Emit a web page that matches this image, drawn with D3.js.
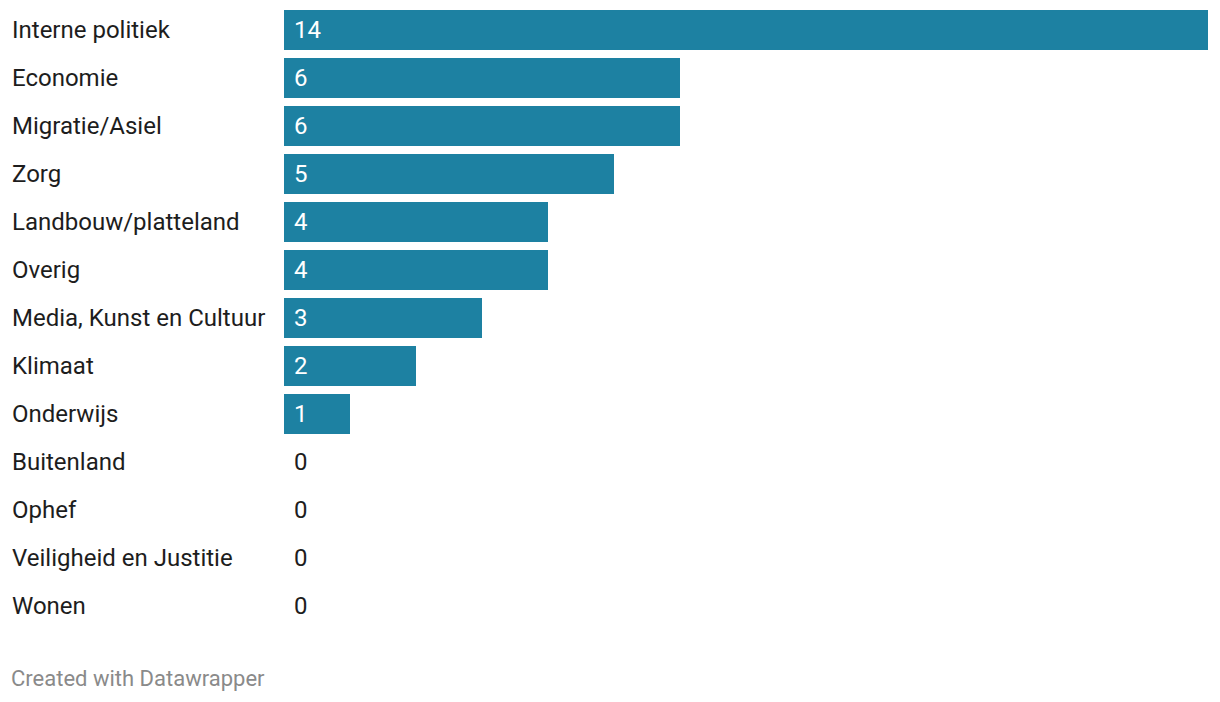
<!DOCTYPE html>
<html><head><meta charset="utf-8">
<script src="https://cdn.jsdelivr.net/npm/d3@7"></script>
<style>body{margin:0;background:#fff;font-family:Roboto,sans-serif;}</style>
</head><body>
<svg id="chart" width="1220" height="702"></svg>
<script>
const categories = ["Interne politiek","Economie","Migratie/Asiel","Zorg","Landbouw/platteland","Overig","Media, Kunst en Cultuur","Klimaat","Onderwijs","Buitenland","Ophef","Veiligheid en Justitie","Wonen"];
const values = [14,6,6,5,4,4,3,2,1,0,0,0,0];
const footer = "Created with Datawrapper";

const svg = d3.select("#chart");
const x = d3.scaleLinear().domain([0,14]).range([284,1208]);
const y = d3.scaleBand().domain(categories).range([6,630]).paddingInner(8/48).paddingOuter(4/48);
const rows = svg.selectAll("g.row").data(categories).join("g").attr("class","row");
rows.append("text").attr("x",12).attr("y",d=>y(d)+y.bandwidth()/2+7.8)
  .attr("font-size",24).attr("fill","#1d1d1d").text(d=>d);
rows.append("rect").attr("x",x(0)).attr("y",d=>y(d))
  .attr("width",(d,i)=>x(values[i])-x(0)).attr("height",y.bandwidth()).attr("fill","#1d81a2");
rows.append("text").attr("x",x(0)+10).attr("y",d=>y(d)+y.bandwidth()/2+7.8)
  .attr("font-size",24).attr("fill",(d,i)=>values[i]>0?"#fff":"#1d1d1d").text((d,i)=>values[i]);
svg.append("text").attr("x",11).attr("y",686).attr("font-size",22).attr("fill","#8a8a8a").text(footer);
</script>
</body></html>
